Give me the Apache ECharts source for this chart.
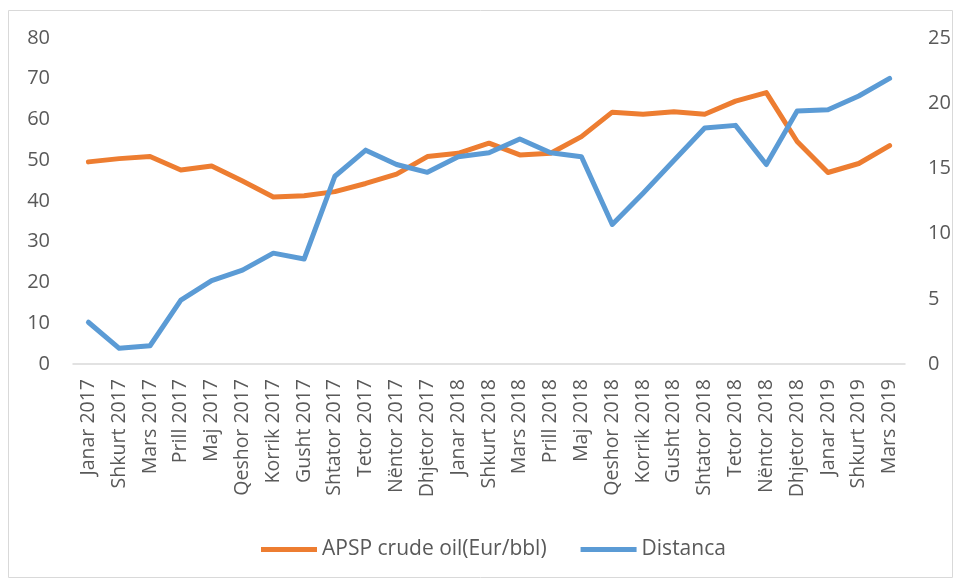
<!DOCTYPE html>
<html>
<head>
<meta charset="utf-8">
<script src="https://cdn.jsdelivr.net/npm/echarts@6/dist/echarts.min.js"></script>
<style>
  html, body { margin: 0; padding: 0; background: #fff; }
  #chart { width: 954px; height: 579px; }
</style>
</head>
<body>
<div id="chart"></div>
<script>
// muajt
const months = [
  'Janar 2017', 'Shkurt 2017', 'Mars 2017', 'Prill 2017', 'Maj 2017', 'Qeshor 2017',
  'Korrik 2017', 'Gusht 2017', 'Shtator 2017', 'Tetor 2017', 'Nëntor 2017', 'Dhjetor 2017',
  'Janar 2018', 'Shkurt 2018', 'Mars 2018', 'Prill 2018', 'Maj 2018', 'Qeshor 2018',
  'Korrik 2018', 'Gusht 2018', 'Shtator 2018', 'Tetor 2018', 'Nëntor 2018', 'Dhjetor 2018',
  'Janar 2019', 'Shkurt 2019', 'Mars 2019'
];

// APSP crude oil (Eur/bbl) - boshti majtas
const crudeOil = [
  49.6, 50.4, 50.9, 47.6, 48.6, 44.9, 41.0, 41.3, 42.3, 44.3, 46.6, 50.9,
  51.7, 54.2, 51.3, 51.7, 55.8, 61.8, 61.3, 61.9, 61.3, 64.5, 66.6, 54.6,
  47.0, 49.2, 53.6
];

// Distanca - boshti djathtas
const distanca = [
  3.2, 1.2, 1.4, 4.9, 6.4, 7.2, 8.5, 8.05, 14.4, 16.4, 15.3, 14.7,
  15.9, 16.2, 17.25, 16.2, 15.9, 10.7, 13.1, 15.6, 18.1, 18.3, 15.3, 19.4,
  19.5, 20.55, 21.9
];

const leftTicks = { min: 0, max: 80, step: 10 };
const rightTicks = { min: 0, max: 25, step: 5 };

const labelColor = '#595959';
const font = 'Open Sans, Noto Sans, sans-serif';

const chart = echarts.init(document.getElementById('chart'));
chart.setOption({
  animation: false,
  textStyle: { fontFamily: font },
  graphic: [{
    type: 'rect',
    shape: { x: 8.5, y: 10.5, width: 944, height: 567 },
    style: { fill: 'none', stroke: '#d9d9d9', lineWidth: 1 },
    silent: true
  }],
  grid: { left: 73, right: 49, top: 38, bottom: 215 },
  legend: {
    left: 256,
    top: 534,
    icon: 'rect',
    itemWidth: 56,
    itemHeight: 5,
    itemGap: 34,
    textStyle: { fontSize: 21, color: labelColor, fontFamily: font },
    data: ['APSP crude oil(Eur/bbl)', 'Distanca']
  },
  xAxis: {
    type: 'category',
    data: months,
    boundaryGap: true,
    axisLine: { lineStyle: { color: '#d9d9d9', width: 1.5 } },
    axisTick: { show: false },
    axisLabel: {
      rotate: 90,
      interval: 0,
      margin: 15,
      fontSize: 19.5,
      color: labelColor
    }
  },
  yAxis: [{
    type: 'value',
    min: leftTicks.min,
    max: leftTicks.max,
    interval: leftTicks.step,
    axisLine: { show: false },
    axisTick: { show: false },
    splitLine: { show: false },
    axisLabel: { fontSize: 20, color: labelColor, margin: 23 }
  }, {
    type: 'value',
    position: 'right',
    min: rightTicks.min,
    max: rightTicks.max,
    interval: rightTicks.step,
    axisLine: { show: false },
    axisTick: { show: false },
    splitLine: { show: false },
    axisLabel: { fontSize: 20, color: labelColor, margin: 23 }
  }],
  series: [{
    name: 'APSP crude oil(Eur/bbl)',
    type: 'line',
    yAxisIndex: 0,
    data: crudeOil,
    symbol: 'none',
    color: '#ED7D31',
    lineStyle: { width: 5, color: '#ED7D31', cap: 'round', join: 'round' }
  }, {
    name: 'Distanca',
    type: 'line',
    yAxisIndex: 1,
    data: distanca,
    symbol: 'none',
    color: '#5B9BD5',
    lineStyle: { width: 5, color: '#5B9BD5', cap: 'round', join: 'round' }
  }]
});
</script>
</body>
</html>
